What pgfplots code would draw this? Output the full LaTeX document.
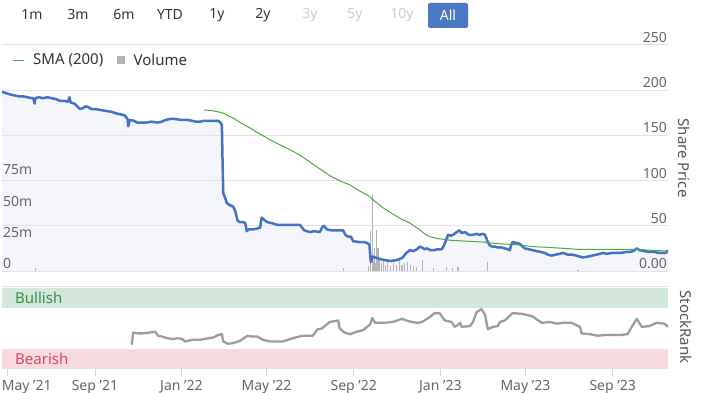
\documentclass[border=0pt]{standalone}
\usepackage{pgfplots}
\pgfplotsset{compat=1.18}
\usepackage{pgfplotstable}
\usepackage{fontspec}
\setmainfont{Noto Sans}
\setsansfont{Noto Sans}
\definecolor{priceblue}{HTML}{4572C4}
\definecolor{smagreen}{HTML}{4BAA3F}
\definecolor{areafill}{HTML}{F4F6FB}
\definecolor{gridc}{HTML}{E3E3E3}
\definecolor{labelc}{HTML}{666666}
\definecolor{titlec}{HTML}{555555}
\definecolor{legc}{HTML}{333333}
\definecolor{volc}{HTML}{B3B3B3}
\definecolor{rankc}{HTML}{9C9C9C}
\definecolor{bullfill}{HTML}{D3E8DA}
\definecolor{bulltext}{HTML}{3C8C4B}
\definecolor{bearfill}{HTML}{F6DADD}
\definecolor{beartext}{HTML}{D94B5E}
\definecolor{btnblue}{HTML}{4A78C2}
\definecolor{btngrey}{HTML}{CCCCCC}
\definecolor{btntext}{HTML}{333333}
\definecolor{tickc}{HTML}{CCD6EB}
\newcommand{\lblfont}{\fontsize{14}{16}\selectfont}
\newcommand{\legfont}{\fontsize{15}{18}\selectfont}

\pgfplotstableread{
d p
-8 198
-4 197
0 196
4 195
10 194
16 193
22 193
28 192
34 191
36 191
38 185
39 191
44 192
50 191
56 192
62 191
68 190
74 188
80 188
85 187
87 192
89 186
94 185
98 182
102 179
106 180
110 182
114 181
118 179
124 179
131 178
138 177
146 176
154 174
160 173
165 172
169 168
170 160
172 167
178 166
183 164
187 164
195 164
203 165
211 164
217 165
223 167
229 168
236 168
244 167
253 167
260 166
266 165
271 165
276 166
281 166
289 166
297 166
300 164
302 161
303 120
304 86
307 80
309 75
313 73
318 71
321 66
324 56
327 54
332 54
335 53
337 44
340 46
346 46
352 47
356 48
358 59
361 57
366 54
372 53
380 51
390 51
400 51
412 51
415 48
418 45
422 44
426 43
432 44
440 43
444 49
446 50
450 46
456 45
465 45
473 45
476 40
480 38
484 38
487 33
495 32
502 32
507 31
510 29
512 10
514 14
515 16
518 15
522 14
526 13
532 12
540 11
548 12
552 13
557 15
562 20
567 23
572 22
577 24
581 27
584 26
588 24
591 25
596 23
601 23
606 24
612 24
615 28
618 34
621 40
625 39
628 40
633 43
637 45
640 42
645 43
650 40
656 40
661 41
665 40
670 41
673 40
675 36
677 32
680 28
683 27
687 27
691 26
696 26
701 25
705 24
708 23
710 29
712 32
717 31
722 30
726 27
729 25
735 24
740 23
746 22
752 21
757 20
762 18
767 17
772 18
778 19
783 20
790 18
796 18
802 17
806 16
811 15
818 16
824 17
830 18
835 19
839 20
845 19
852 20
859 20
865 20
872 21
877 21
882 22
887 25
889 24
891 23
897 22
905 21
912 21
918 20
924 20
928 20
931 23
}\pricedata

\pgfplotstableread{
d s
277 178
290 177
302 175
310 172
318 169
330 163
342 158
352 153
370 145
385 139
398 134
410 129
425 121
440 113
455 105
470 99
483 95
495 89
507 84
518 77
529 70
545 62
556 57
567 53
580 46
590 40
595 38
605 36
624 34
645 33
670 32
695 30
718 29
740 27
764 26
785 25
802 24
830 24
860 24
887 24
905 23
931 22
}\smadata

\pgfplotstableread{
d v
39 2
473 2
509 4
512 32
514 61
516 8
517 18
519 6
520 33
522 18
524 10
527 6
530 8
533 5
536 7
540 4
544 6
548 5
552 8
556 5
560 6
564 7
568 5
572 4
576 3
585 9
600 2
619 3
627 2
635 3
676 7
804 1
}\voldata

\pgfplotstableread{
d r
175 30
177 45
184 44
191 44
200 45
208 46
212 41
218 40
225 38
233 37
240 38
246 37
250 34
255 35
260 36
271 36
283 38
290 39
297 42
302 43
304 34
311 31
318 32
328 35
338 41
345 40
352 40
360 36
370 34
380 34
388 34
395 36
402 38
415 41
430 41
437 49
443 50
454 58
466 60
468 50
475 45
483 43
492 46
501 48
511 55
514 63
518 57
530 57
543 58
556 62
565 59
570 58
578 57
584 58
595 64
602 69
609 69
616 60
626 58
630 52
634 54
638 57
640 52
652 53
656 58
661 70
668 74
673 67
677 49
684 52
691 53
694 58
701 60
712 69
726 68
740 65
753 57
764 58
775 56
783 57
795 57
807 52
809 44
821 43
832 41
842 42
853 42
864 42
874 43
880 52
887 62
894 52
905 53
915 57
926 56
931 52
}\rankdata

\begin{document}
\begin{tikzpicture}[x=1pt,y=1pt]
\useasboundingbox (0,0) rectangle (701,393);
\pgfplotsset{base/.style={scale only axis, width=666pt, height=228pt,
  at={(2pt,122pt)}, anchor=south west, xmin=-8, xmax=931,
  axis line style={draw=none}, major tick length=0pt, xtick=\empty,
  tick label style={font=\lblfont, text=labelc}}}

% price scale: grid, area fill, right labels
\begin{axis}[base, axis on top, ymin=0, ymax=252, ytick={0,50,100,150,200,250},
  yticklabels={0.00,50,100,150,200,250}, ymajorgrids,
  grid style={gridc, line width=0.8pt},
  yticklabel pos=right,
  yticklabel style={anchor=south east, inner sep=0pt, yshift=2pt, xshift=-1pt}]
\addplot[draw=none, fill=areafill] table[x=d,y=p]{\pricedata} \closedcycle;
\end{axis}

% volume scale
\begin{axis}[base, ymin=0, ymax=182, ytick={0,25,50,75},
  yticklabels={0,25m,50m,75m},
  yticklabel style={anchor=south west, inner sep=0pt, yshift=2pt, xshift=1pt}]
\addplot[ycomb, volc, line width=1.2pt] table[x=d,y=v]{\voldata};
\end{axis}

% price lines
\begin{axis}[base, ymin=0, ymax=252, ytick=\empty,
  legend style={at={(0.015,0.925)}, anchor=west, draw=none, fill=none,
    legend columns=2, font=\legfont, text=legc, inner sep=0pt,
    /tikz/every odd column/.append style={column sep=7pt},
    /tikz/every even column/.append style={column sep=12pt}}]
\addplot[priceblue, line width=2.5pt, line join=round, forget plot] table[x=d,y=p]{\pricedata};
\addplot[smagreen, line width=1pt,
  legend image code/.code={\draw[smagreen, line width=1pt] (0pt,0pt) -- (11pt,0pt);}]
  table[x=d,y=s]{\smadata};
\addlegendentry{SMA (200)}
\addlegendimage{legend image code/.code={\fill[volc] (0pt,-3.5pt) rectangle (7pt,3.5pt);}}
\addlegendentry{Volume}
\end{axis}

% StockRank panel
\begin{axis}[scale only axis, width=666pt, height=81pt, at={(2pt,24pt)}, anchor=south west,
  xmin=-8, xmax=931, ymin=0, ymax=100,
  axis line style={draw=none},
  ytick={0}, yticklabels={0}, yticklabel pos=right,
  ytick style={draw=none},
  yticklabel style={anchor=south east, inner sep=0pt, yshift=2pt, xshift=-1pt},
  xtick={123,245,365,488,610,730,853},
  xticklabels={Sep '21,Jan '22,May '22,Sep '22,Jan '23,May '23,Sep '23},
  extra x ticks={0}, extra x tick labels={May '21},
  extra x tick style={xticklabel style={anchor=north west, xshift=-6pt}},
  xtick pos=bottom, xtick align=outside, major tick length=7pt,
  x tick style={draw=tickc, line width=0.8pt},
  xticklabel style={inner sep=0pt, yshift=-4pt},
  tick label style={font=\lblfont, text=labelc}]
\fill[bullfill] (rel axis cs:0,0.75) rectangle (rel axis cs:1,1);
\fill[bearfill] (rel axis cs:0,0) rectangle (rel axis cs:1,0.25);
\node[anchor=west, font=\legfont, text=bulltext, inner sep=0pt] at (rel axis cs:0.0195,0.877) {Bullish};
\node[anchor=west, font=\legfont, text=beartext, inner sep=0pt] at (rel axis cs:0.0195,0.123) {Bearish};
\addplot[rankc, line width=2.3pt, line join=round] table[x=d,y=r]{\rankdata};
\end{axis}

\draw[gridc, line width=0.8pt] (2,107) -- (668,107);

\node[rotate=-90, font=\legfont, text=titlec] at (684,235) {Share Price};
\node[rotate=-90, font=\legfont, text=titlec] at (686,66) {StockRank};

\foreach \t/\xx in {1m/32,3m/78,6m/124,YTD/170,1y/217,2y/263}
  \node[text=btntext, font=\lblfont] at (\xx,378) {\t};
\foreach \t/\xx in {3y/310,5y/355,10y/402}
  \node[text=btngrey, font=\lblfont] at (\xx,378) {\t};
\node[fill=btnblue, rounded corners=2pt, minimum width=40pt, minimum height=25pt,
  text=white, font=\lblfont\bfseries, inner sep=0pt] at (448,377.5) {All};
\end{tikzpicture}
\end{document}
